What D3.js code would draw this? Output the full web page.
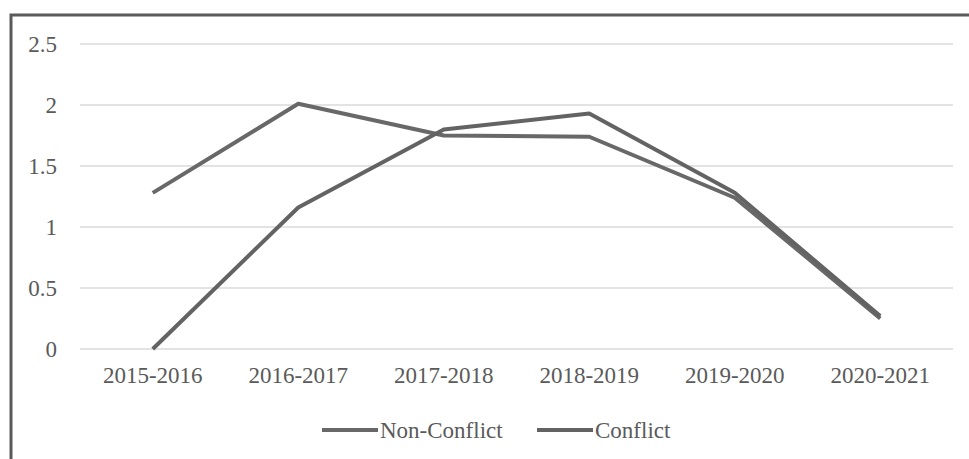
<!DOCTYPE html>
<html>
<head>
<meta charset="utf-8">
<script src="https://cdn.jsdelivr.net/npm/d3@7"></script>
<style>
  html, body { margin: 0; padding: 0; background: #fff; }
  svg { display: block; }
</style>
</head>
<body>
<svg id="chart" width="969" height="459"></svg>
<script>
const categories = ["2015-2016", "2016-2017", "2017-2018", "2018-2019", "2019-2020", "2020-2021"];
const nonConflict = [1.28, 2.01, 1.75, 1.74, 1.24, 0.25];
const conflict = [0, 1.16, 1.80, 1.93, 1.28, 0.27];
const yTicks = [0, 0.5, 1, 1.5, 2, 2.5];
const seriesNames = ["Non-Conflict", "Conflict"];

const series = [
  { name: seriesNames[0], values: nonConflict, color: "#686868" },
  { name: seriesNames[1], values: conflict, color: "#636363" }
];

const FONT = "'Liberation Serif', 'Times New Roman', serif";
const TEXT_COLOR = "#5a5a5a";
const FONT_SIZE = 23;

const svg = d3.select("#chart");
const W = 969, H = 459;
const margin = { left: 80, right: 16, top: 44, bottom: 110 };

// Frame: left and top edges of the chart box
svg.append("path")
  .attr("d", `M11,${H} L11,15 L${W},15`)
  .attr("fill", "none")
  .attr("stroke", "#5a5a5a")
  .attr("stroke-width", 3);

const x = d3.scaleBand()
  .domain(categories)
  .range([margin.left, W - margin.right]);

const y = d3.scaleLinear()
  .domain([0, 2.5])
  .range([H - margin.bottom, margin.top]);

// Horizontal gridlines
svg.append("g")
  .selectAll("line")
  .data(yTicks)
  .join("line")
  .attr("x1", margin.left)
  .attr("x2", W - margin.right)
  .attr("y1", d => y(d))
  .attr("y2", d => y(d))
  .attr("stroke", "#e3e3e3")
  .attr("stroke-width", 2);

// Y axis labels
const yAxis = d3.axisLeft(y).tickValues(yTicks).tickSize(0).tickPadding(0)
  .tickFormat(d => String(d));
svg.append("g")
  .attr("transform", `translate(57,0)`)
  .call(yAxis)
  .call(g => g.select(".domain").remove())
  .selectAll("text")
  .attr("font-family", FONT)
  .attr("font-size", FONT_SIZE)
  .attr("fill", TEXT_COLOR);

// X axis labels
const xAxis = d3.axisBottom(x).tickSize(0).tickPadding(0);
svg.append("g")
  .attr("transform", `translate(0,${H - margin.bottom + 18})`)
  .call(xAxis)
  .call(g => g.select(".domain").remove())
  .selectAll("text")
  .attr("font-family", FONT)
  .attr("font-size", FONT_SIZE)
  .attr("fill", TEXT_COLOR);

// Series lines
const line = d3.line()
  .x((d, i) => x(categories[i]) + x.bandwidth() / 2)
  .y(d => y(d));

svg.append("g")
  .selectAll("path")
  .data(series)
  .join("path")
  .attr("d", d => line(d.values))
  .attr("fill", "none")
  .attr("stroke", d => d.color)
  .attr("stroke-width", 4)
  .attr("stroke-linejoin", "round");

// Legend
const legendY = 430;
const legendPos = [322, 537];
const legend = svg.append("g")
  .selectAll("g")
  .data(series)
  .join("g")
  .attr("transform", (d, i) => `translate(${legendPos[i]},${legendY})`);
legend.append("line")
  .attr("x1", 0).attr("x2", 56)
  .attr("y1", 0).attr("y2", 0)
  .attr("stroke", d => d.color)
  .attr("stroke-width", 4);
legend.append("text")
  .attr("x", 58)
  .attr("y", 0)
  .attr("dy", "0.35em")
  .attr("font-family", FONT)
  .attr("font-size", FONT_SIZE)
  .attr("fill", TEXT_COLOR)
  .text(d => d.name);
</script>
</body>
</html>
